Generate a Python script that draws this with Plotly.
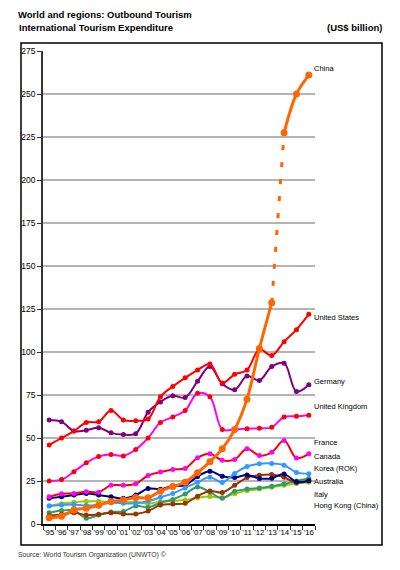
import plotly.graph_objects as go

# Data ------------------------------------------------------------------
years = ["'95", "'96", "'97", "'98", "'99", "'00", "'01", "'02", "'03", "'04", "'05",
         "'06", "'07", "'08", "'09", "'10", "'11", "'12", "'13", "'14", "'15", "'16"]

china = [3.7, 4.5, 8.1, 9.2, 10.9, 13.1, 13.9, 15.4, 15.2, 19.1, 21.8,
         24.3, 29.8, 36.2, 43.7, 54.9, 72.6, 102.0, 128.6, 227.5, 250.0, 261.0]
united_states = [46, 50, 54, 59, 59.5, 66, 60.5, 60, 61, 74, 80,
                 85, 89.5, 93, 82, 87, 89.5, 101.5, 98, 106, 113, 122]
germany = [60.5, 59.5, 54, 54.5, 56, 53, 52, 52.5, 65, 71, 74.5,
           73.5, 83, 91.5, 81.5, 78, 86, 83.5, 91.5, 93.5, 77, 81]
united_kingdom = [25, 25.8, 30.4, 35.6, 39.2, 40.4, 39.6, 43.3, 50, 59, 62.2,
                  66, 76, 74, 55, 55, 55.4, 55.6, 56.2, 62.2, 62.6, 63.2]
france = [15.8, 17.6, 17.8, 18.8, 18.5, 22.5, 22.5, 23.4, 28.2, 30.2, 31.7,
          32.3, 38.5, 40.8, 37, 37.5, 43.7, 39.8, 41.7, 48.5, 38.3, 40.9]
canada = [10.4, 11, 11.4, 10.7, 11.2, 12.3, 12, 12, 13.2, 15.5, 17.8,
          21, 24.3, 27.2, 24.2, 29.4, 33.4, 35, 35.2, 34.2, 30, 29.2]
korea = [6.5, 7.8, 7.8, 3.4, 5.2, 7, 7.3, 10.5, 9.7, 12.3, 14.3,
         17.5, 21.5, 18.5, 15, 19, 20.3, 21, 22, 23.3, 25, 26.4]
australia = [5, 5.6, 6.6, 5.2, 5.6, 6.6, 5.8, 5.8, 7.5, 11, 11.6,
             12, 16.2, 19.2, 18.3, 22.5, 27, 28.3, 28.8, 27.2, 24, 25.2]
italy = [14.9, 15.8, 16.8, 17.7, 16.9, 15.8, 14.9, 16.8, 20.6, 20.2, 22.1,
         22.5, 27.6, 30.6, 27.8, 27, 28.5, 26.5, 26.6, 29, 24.6, 25.2]
hong_kong = [10.6, 11.8, 12.6, 13.2, 13.2, 12.6, 12.6, 12.8, 11.8, 13, 13.4,
             13.9, 15.3, 16, 15.4, 17.6, 19.4, 20.3, 21.4, 22.5, 23.5, 24.3]

series_names = ["Hong Kong (China)", "Korea (ROK)", "Australia", "Italy", "Canada",
                "France", "United Kingdom", "Germany", "United States"]
series_values = [hong_kong, korea, australia, italy, canada,
                 france, united_kingdom, germany, united_states]

# end labels on the right (name, y value where the text sits)
end_labels = [("China", 265), ("United States", 119.8), ("Germany", 83.1),
              ("United Kingdom", 68.6), ("France", 47.1), ("Canada", 39.5),
              ("Korea (ROK)", 32), ("Australia", 25), ("Italy", 17.4),
              ("Hong Kong (China)", 10.5)]

# Styles ----------------------------------------------------------------
line_colors = {"Hong Kong (China)": "#99cc00", "Korea (ROK)": "#339966",
               "Australia": "#993300", "Italy": "#000080", "Canada": "#3399ff",
               "France": "#ff0000", "United Kingdom": "#ff00ff",
               "Germany": "#800080", "United States": "#ff0000"}
marker_colors = dict(line_colors)
marker_colors["France"] = "#ff00ff"
marker_colors["United Kingdom"] = "#ff0000"
CHINA = "#ff6600"

FONT = "Liberation Sans, Arial, sans-serif"

# the page body adds an 8px margin, so the figure is a bit smaller
# and all page-pixel positions below are shifted by OFF
OFF = 8
W, H = 400 - OFF, 570 - OFF
L, R, T, B = 43 - OFF, 85, 51 - OFF, 46
PW, PH = W - L - R, H - T - B


def px_x(p):
    return (p - OFF - L) / PW


def px_y(p):
    return (H - B - (p - OFF)) / PH


fig = go.Figure()

for name, vals in zip(series_names, series_values):
    fig.add_trace(go.Scatter(
        x=years, y=vals, mode='lines+markers', name=name,
        line=dict(color=line_colors[name], width=2, shape='spline', smoothing=1),
        marker=dict(color=marker_colors[name], size=5),
    ))

# China: old series, dashed break, revised series
fig.add_trace(go.Scatter(
    x=years[:19], y=china[:19], mode='lines+markers',
    line=dict(color=CHINA, width=3, shape='spline', smoothing=1),
    marker=dict(color=CHINA, size=7),
))
fig.add_trace(go.Scatter(
    x=years[18:20], y=china[18:20], mode='lines',
    line=dict(color=CHINA, width=3, dash='5px,12px'),
))
fig.add_trace(go.Scatter(
    x=years[19:], y=china[19:], mode='lines+markers',
    line=dict(color=CHINA, width=3, shape='spline', smoothing=1),
    marker=dict(color=CHINA, size=7),
))

annotations = []
for name, yv in end_labels:
    annotations.append(dict(
        x=1.0, xref='paper', y=yv, yref='y', text=name, showarrow=False,
        xanchor='left', yanchor='middle', xshift=-3,
        font=dict(size=7.5, color='#000000'),
    ))

annotations += [
    dict(x=px_x(19), y=1.0, yref='paper', xref='paper', showarrow=False,
         text="<b>World and regions: Outbound Tourism</b>", xanchor='left', yanchor='top',
         yshift=T, borderpad=0, xshift=-2, font=dict(size=9.5, color='#000000')),
    dict(x=px_x(19), y=px_y(28), xref='paper', yref='paper', showarrow=False,
         text="<b>International Tourism Expenditure</b>", xanchor='left', yanchor='middle',
         xshift=-2, font=dict(size=9.5, color='#000000')),
    dict(x=px_x(382), y=px_y(28), xref='paper', yref='paper', showarrow=False,
         text="<b>(US$ billion)</b>", xanchor='right', yanchor='middle',
         xshift=2, font=dict(size=9.5, color='#000000')),
    dict(x=px_x(18), y=px_y(555), xref='paper', yref='paper', showarrow=False,
         text="Source: World Tourism Organization (UNWTO) ©", xanchor='left', yanchor='middle',
         xshift=-2, font=dict(size=6.8, color='#333333')),
]

fig.update_layout(
    template='none',
    width=W, height=H, autosize=False,
    margin=dict(l=L, r=R, t=T, b=B, pad=0),
    paper_bgcolor='white', plot_bgcolor='white',
    showlegend=False,
    font=dict(family=FONT, size=8, color='#000000'),
    annotations=annotations,
    shapes=[dict(type='rect', xref='paper', yref='paper',
                 x0=px_x(21), x1=px_x(382), y0=px_y(545), y1=px_y(43),
                 line=dict(color='#000000', width=1.5))],
    xaxis=dict(
        type='category', tickson='boundaries', ticks='outside', ticklen=4,
        tickcolor='#333333', showline=True, linecolor='#000000', linewidth=1.5,
        showgrid=False, tickangle=0, tickfont=dict(size=7.8), automargin=False,
        range=[-0.5, 21.5],
    ),
    yaxis=dict(
        range=[0, 275], tickvals=list(range(0, 276, 25)), ticks='outside', ticklen=4,
        tickcolor='#333333', showline=True, linecolor='#333333', linewidth=1.5,
        showgrid=True, gridcolor='#b4b4b4', gridwidth=1.5, zeroline=False,
        tickfont=dict(size=8.5), automargin=False,
    ),
)

fig.write_html("out.html")
